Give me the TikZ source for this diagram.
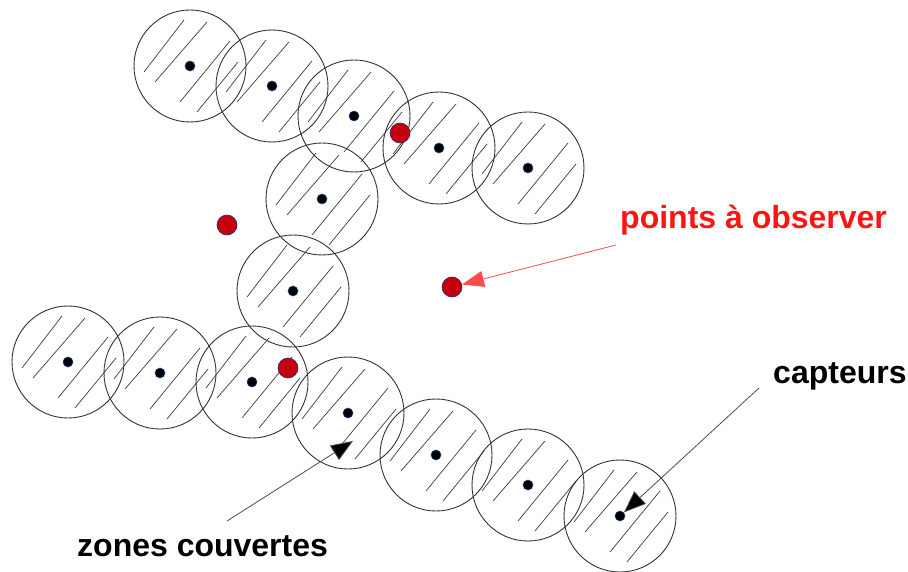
\documentclass[tikz,border=0pt]{standalone}
\usepackage{fontspec}
\setmainfont{Liberation Sans}
\usetikzlibrary{arrows.meta}
\definecolor{hatchgray}{RGB}{60,60,60}
\definecolor{rimgray}{RGB}{50,50,50}
\definecolor{targetred}{RGB}{196,0,14}
\definecolor{targetrim}{RGB}{40,40,110}
\definecolor{dotrim}{RGB}{30,70,140}
\definecolor{labelred}{RGB}{255,20,20}
\definecolor{pointerred}{RGB}{255,75,75}
\tikzset{
  x=1bp, y=-1bp,
  zone/.style={circle, draw=rimgray, line width=0.9bp, minimum size=112bp, inner sep=0pt,
    path picture={
      \begin{scope}[shift={(path picture bounding box.center)}, hatchgray, line width=0.7bp]
        \draw (-46,6) -- (-6,-46);
        \draw (-35,16) -- (17,-44);
        \draw (-10,36) -- (40,-25);
        \draw (7,46) -- (48,-4);
      \end{scope}}},
  sensor/.style={circle, fill=black, draw=dotrim, line width=0.6bp, minimum size=10bp, inner sep=0pt},
  target/.style={circle, fill=targetred, draw=targetrim, line width=0.6bp, minimum size=20bp, inner sep=0pt},
  caption/.style={font=\bfseries\fontsize{32bp}{36bp}\selectfont, inner sep=0pt, anchor=base west},
  blackhead/.tip={Triangle[length=22bp, width=17bp, fill=black]},
  pointer/.style={line width=0.8bp}
}
\begin{document}
\begin{tikzpicture}
  \useasboundingbox (0,0) rectangle (908,572);
  % coverage zones of the sensors
  \foreach \n/\px/\py in {1/190/66, 2/272/86, 3/354/116, 4/439/148, 5/528/168,
      6/322/199, 7/293/291, 8/68/362, 9/160/373, 10/252/382, 11/348/413,
      12/436/455, 13/528/485, 14/620/516} {
    \node[zone] (z\n) at (\px,\py) {};
    \node[sensor] (s\n) at (z\n.center) {};
  }
  % points to be observed
  \node[target] (p1) at (400,133) {};
  \node[target] (p2) at (227,225) {};
  \node[target] (p3) at (452,287) {};
  \node[target] (p4) at (288,368) {};
  % captions
  \node[caption, text=labelred] (lp) at (620,229) {points à observer};
  \node[caption] (lc) at (773,383) {capteurs};
  \node[caption] (lz) at (77,556) {zones couvertes};
  % pointers
  \coordinate (ap) at (616,245);
  \coordinate (ac) at (759,388);
  \coordinate (az) at (227,521);
  \coordinate (tz) at (353,441);
  \draw[pointer, pointerred, -{Triangle[length=22bp, width=16bp]}] (ap) -- (p3);
  \draw[pointer, draw=black!70, blackhead-] (s14) -- (ac);
  \draw[pointer, draw=black!70, -blackhead] (az) -- (tz);
\end{tikzpicture}
\end{document}
